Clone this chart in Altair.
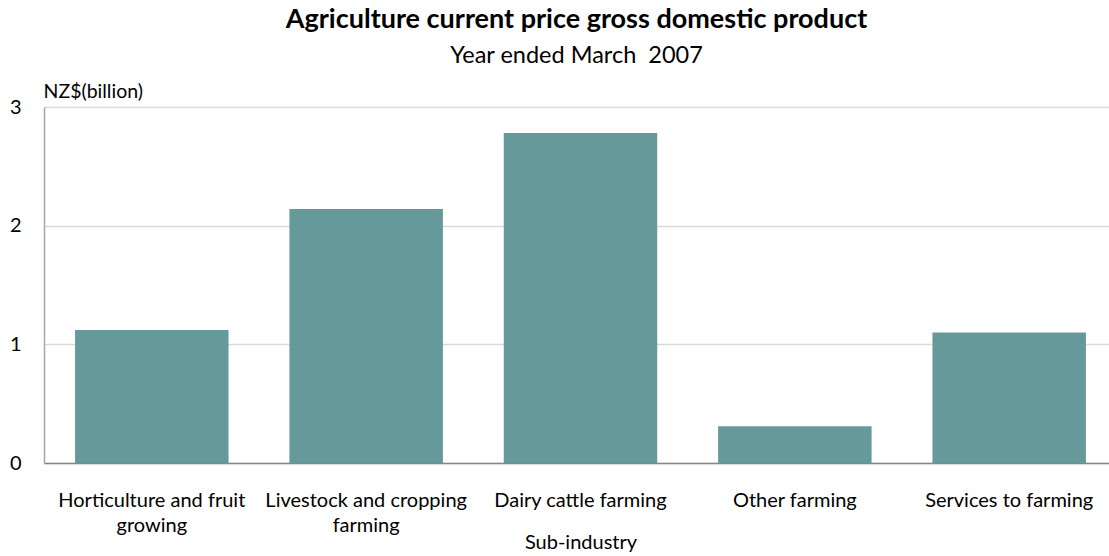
import altair as alt
import pandas as pd

categories = [
    "Horticulture and fruit growing",
    "Livestock and cropping farming",
    "Dairy cattle farming",
    "Other farming",
    "Services to farming",
]
label_lines = [
    ["Horticulture and fruit", "growing"],
    ["Livestock and cropping", "farming"],
    ["Dairy cattle farming"],
    ["Other farming"],
    ["Services to farming"],
]
values = [1.12, 2.14, 2.78, 0.31, 1.10]

df = pd.DataFrame({"category": categories, "value": values})

# Build a label expression mapping each category to its wrapped lines
expr = "datum.value"
for cat, lines in reversed(list(zip(categories, label_lines))):
    arr = "[" + ",".join("'" + l + "'" for l in lines) + "]"
    expr = f"datum.value == '{cat}' ? {arr} : ({expr})"

FONT = "Lato"

chart = (
    alt.Chart(df)
    .mark_bar(color="#669999")
    .encode(
        x=alt.X(
            "category:N",
            sort=categories,
            title="Sub-industry",
            scale=alt.Scale(paddingInner=0.284, paddingOuter=0.145, range=[0, 1073]),
            axis=alt.Axis(
                labelExpr=expr,
                labelAngle=0,
                labelFontSize=20,
                labelFont=FONT,
                labelColor="#000000",
                labelPadding=37,
                labelLineHeight=25,
                labelBaseline="middle",
                ticks=False,
                domainColor="#868686",
                domainWidth=1.5,
                titleFont=FONT,
                titleFontSize=20,
                titleFontWeight="normal",
                titleColor="#000000",
                titleY=79,
                titleBaseline="middle",
                labelLimit=300,
            ),
        ),
        y=alt.Y(
            "value:Q",
            scale=alt.Scale(domain=[0, 3], nice=False),
            title="NZ$(billion)",
            axis=alt.Axis(
                values=[0, 1, 2, 3],
                format="d",
                labelFontSize=20,
                labelFont=FONT,
                labelColor="#000000",
                labelPadding=23,
                ticks=False,
                domainColor="#a6a6a6",
                domainWidth=1.5,
                gridColor="#d9d9d9",
                gridWidth=1.5,
                titleAngle=0,
                titleAlign="left",
                titleBaseline="middle",
                titleX=-1,
                titleY=-16,
                titleFont=FONT,
                titleFontSize=19.5,
                titleFontWeight="normal",
                titleColor="#000000",
            ),
        ),
    )
    .properties(
        width=1065,
        height=356,
        autosize=alt.AutoSizeParams(type="none"),
        padding={"left": 44, "top": 107, "right": 0, "bottom": 93},
        title=alt.TitleParams(
            text="Agriculture current price gross domestic product",
            subtitle="Year ended March \u00a02007",
            font=FONT,
            fontSize=27,
            fontWeight="bold",
            color="#000000",
            subtitleFont=FONT,
            subtitleFontSize=23.5,
            subtitleColor="#000000",
            subtitlePadding=10,
            anchor="middle",
            offset=13,
        ),
    )
    .configure_view(stroke=None)
    .configure(background="white")
)

chart.save("out.html", embed_options={"renderer": "svg", "actions": False})
